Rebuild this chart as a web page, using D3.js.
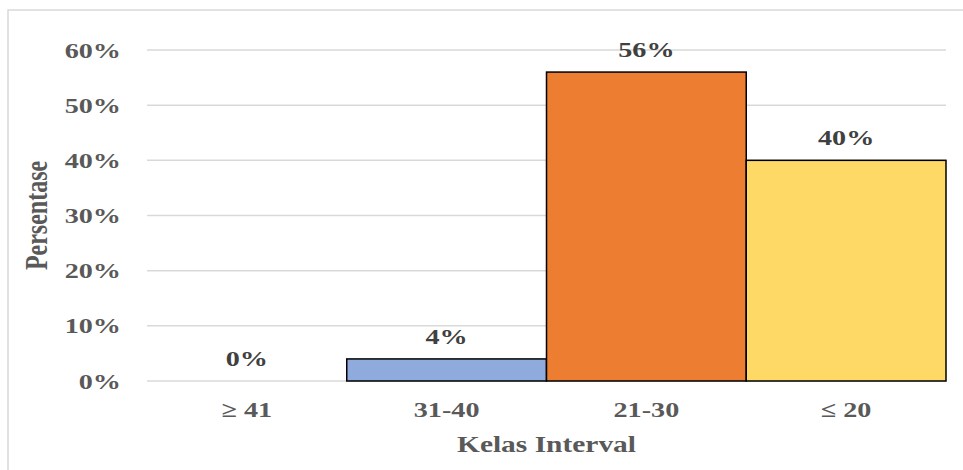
<!DOCTYPE html>
<html lang="id">
<head>
    <meta charset="UTF-8">
    <title>Persentase Kelas Interval</title>
    <script src="https://d3js.org/d3.v7.min.js"></script>
    <style>
        body { margin: 0; background: #fff; }
        text { font-family: 'Liberation Serif', 'Times New Roman', serif; font-weight: bold; }
    </style>
</head>
<body>
    <div id="chart"></div>
    <script>
        // Data
        const categories = ["\u2265 41", "31-40", "21-30", "\u2264 20"];
        const values = [0, 4, 56, 40];
        const colors = ["#8faadc", "#8faadc", "#ed7d31", "#ffd966"];
        const yTicks = [0, 10, 20, 30, 40, 50, 60];

        const W = 963, H = 470;
        const margin = { top: 50, right: 17, bottom: 89, left: 147 };
        const width = W - margin.left - margin.right;
        const height = H - margin.top - margin.bottom;
        const stretch = 1.28; // text in the picture is widened horizontally

        const svg = d3.select("#chart").append("svg")
            .attr("width", W)
            .attr("height", H);

        // outer frame (only top and left edges show)
        svg.append("rect")
            .attr("x", 8).attr("y", 10)
            .attr("width", W + 20).attr("height", H + 20)
            .attr("fill", "none")
            .attr("stroke", "#d9d9d9")
            .attr("stroke-width", 1.5);

        const g = svg.append("g")
            .attr("transform", `translate(${margin.left},${margin.top})`);

        const x = d3.scaleBand().domain(categories).range([0, width]).padding(0);
        const y = d3.scaleLinear().domain([0, 60]).range([height, 0]);

        // gridlines
        g.selectAll(".grid").data(yTicks).join("line")
            .attr("class", "grid")
            .attr("x1", 0).attr("x2", width)
            .attr("y1", d => y(d)).attr("y2", d => y(d))
            .attr("stroke", "#d9d9d9")
            .attr("stroke-width", 1.5);

        // y tick labels
        g.selectAll(".ytick").data(yTicks).join("text")
            .attr("class", "ytick")
            .attr("transform", d => `translate(-26,${y(d) + 7.5}) scale(${stretch},1)`)
            .attr("text-anchor", "end")
            .attr("fill", "#595959")
            .style("font-size", "22px")
            .text(d => d + "%");

        // bars
        const data = categories.map((c, i) => ({ cat: c, val: values[i], color: colors[i] }));
        g.selectAll(".bar").data(data.filter(d => d.val > 0)).join("rect")
            .attr("class", "bar")
            .attr("x", d => x(d.cat))
            .attr("y", d => y(d.val))
            .attr("width", x.bandwidth())
            .attr("height", d => height - y(d.val))
            .attr("fill", d => d.color)
            .attr("stroke", "#000")
            .attr("stroke-width", 1.5);

        // data labels
        g.selectAll(".dlabel").data(data).join("text")
            .attr("class", "dlabel")
            .attr("transform", d => `translate(${x(d.cat) + x.bandwidth() / 2},${y(d.val) - 15}) scale(${stretch},1)`)
            .attr("text-anchor", "middle")
            .attr("fill", "#404040")
            .style("font-size", "22px")
            .text(d => d.val + "%");

        // category labels
        g.selectAll(".xtick").data(categories).join("text")
            .attr("class", "xtick")
            .attr("transform", d => `translate(${x(d) + x.bandwidth() / 2},${height + 36}) scale(${stretch},1)`)
            .attr("text-anchor", "middle")
            .attr("fill", "#595959")
            .style("font-size", "22px")
            .text(d => d);

        // axis titles
        g.append("text")
            .attr("transform", `translate(${width / 2},${height + 71}) scale(${stretch},1)`)
            .attr("text-anchor", "middle")
            .attr("fill", "#595959")
            .style("font-size", "23px")
            .text("Kelas Interval");

        g.append("text")
            .attr("transform", `translate(${-100},${height / 2}) rotate(-90) scale(1,${stretch})`)
            .attr("text-anchor", "middle")
            .attr("fill", "#595959")
            .style("font-size", "24px")
            .text("Persentase");
    </script>
</body>
</html>
